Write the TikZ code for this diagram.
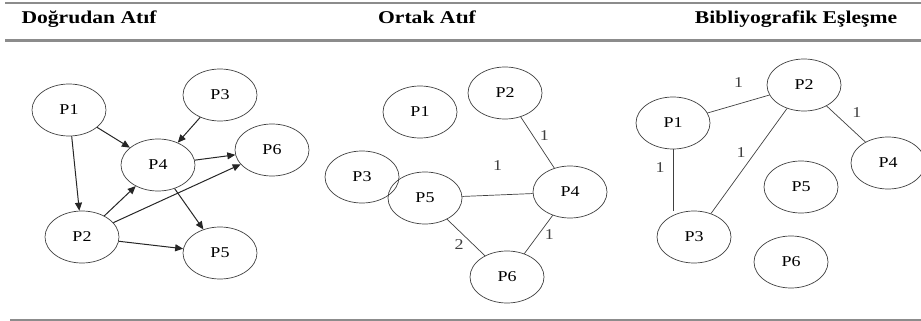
\documentclass[tikz,border=0pt]{standalone}
\usepackage{fontspec}
\setmainfont{Liberation Serif}[FakeStretch=1.2]
\usepackage{tikz}
\usetikzlibrary{shapes.geometric, arrows.meta}

\begin{document}
\begin{tikzpicture}[x=1pt, y=-1pt,
  paper/.style={draw=black!75, ellipse, line width=0.7pt, minimum width=74pt, minimum height=52pt, inner sep=0pt, font=\fontsize{15}{15}\selectfont},
  cite/.style={-{Triangle[length=8pt, width=7pt]}, line width=1pt, black!85},
  link/.style={line width=0.7pt, black!75},
  wt/.style={font=\fontsize{15}{15}\selectfont, inner sep=2pt},
  title/.style={font=\fontsize{18}{18}\selectfont\bfseries, anchor=base},
  rule/.style={line width=2.2pt, black!45}]
\useasboundingbox (0,0) rectangle (921,321);

% table rules
\draw[rule] (5,3) -- (921,3);
\draw[rule] (5,40.5) -- (921,40.5);
\draw[rule, line width=1.6pt] (10,320) -- (921,320);

\node[title, anchor=base west] (t1) at (18,24) {Doğrudan Atıf};
\node[title] (t2) at (427,24) {Ortak Atıf};
\node[title] (t3) at (796,24) {Bibliyografik Eşleşme};

% Dogrudan atif
\node[paper] (dp1) at (69,110) {P1};
\node[paper] (dp3) at (220,95) {P3};
\node[paper] (dp4) at (158,165) {P4};
\node[paper] (dp6) at (272,150) {P6};
\node[paper] (dp2) at (82,237) {P2};
\node[paper] (dp5) at (220,253) {P5};

\draw[cite] (dp1) -- (dp4);
\draw[cite] (dp1) -- (dp2);
\draw[cite] (dp3) -- (dp4);
\draw[cite] (dp4) -- (dp6);
\draw[cite] (dp4) -- (dp5);
\draw[cite] (dp2) -- (dp4);
\draw[cite] (dp2) -- (dp6);
\draw[cite] (dp2) -- (dp5);

% Ortak atif
\node[paper] (op1) at (420,112) {P1};
\node[paper] (op2) at (505,93) {P2};
\node[paper] (op3) at (362,177) {P3};
\node[paper] (op5) at (425,198) {P5};
\node[paper] (op4) at (570,192) {P4};
\node[paper] (op6) at (507,277) {P6};

\draw[link] (op2) -- (op4) node[wt, midway, above right] {1};
\draw[link] (op5) -- (op4) node[wt, midway, above=22pt] {1};
\draw[link] (op5) -- (op6) node[wt, midway, below left] {2};
\draw[link] (op6) -- (op4) node[wt, midway, right=4pt] {1};

% Bibliyografik eslesme
\node[paper] (bp1) at (673,123) {P1};
\node[paper] (bp2) at (804,85) {P2};
\node[paper] (bp4) at (888,163) {P4};
\node[paper] (bp5) at (801,187) {P5};
\node[paper] (bp3) at (694,237) {P3};
\node[paper] (bp6) at (791,262) {P6};

\draw[link] (bp1) -- (bp2) node[wt, midway, above=14pt] {1};
\draw[link] (bp2) -- (bp4) node[wt, midway, above right=4pt] {1};
\draw[link] (bp1.south) -- (bp3.north -| bp1.south) node[wt, pos=0.3, left=6pt] {1};
\draw[link] (bp2) -- (bp3) node[wt, midway, above left=1pt] {1};
\end{tikzpicture}
\end{document}
